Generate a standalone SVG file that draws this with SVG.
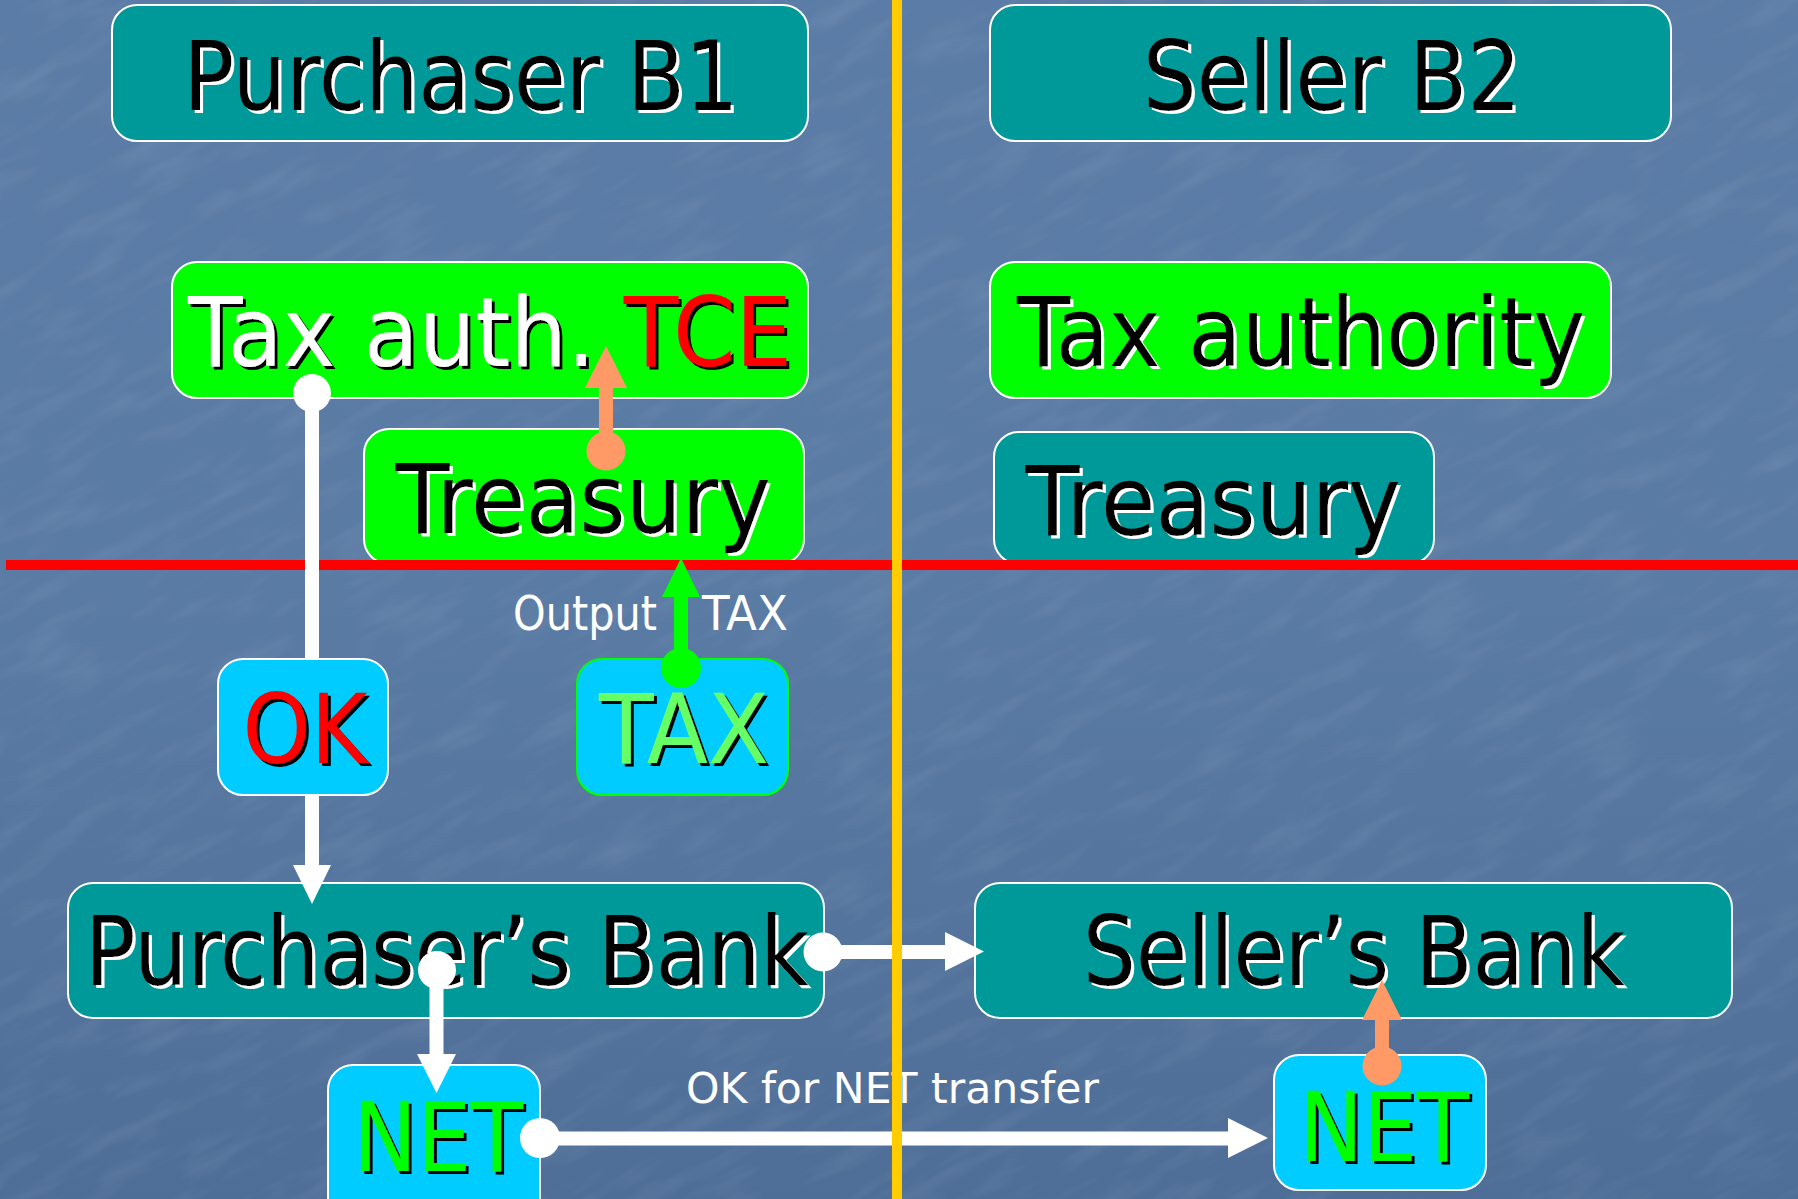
<svg xmlns="http://www.w3.org/2000/svg" width="1798" height="1199" viewBox="0 0 1798 1199">
<defs>
<linearGradient id="bg" x1="0" y1="0" x2="0" y2="1">
<stop offset="0" stop-color="#5b7ca6"/>
<stop offset="0.5" stop-color="#5a7ba4"/>
<stop offset="1" stop-color="#4f6e97"/>
</linearGradient>
<filter id="tex" x="0" y="0" width="100%" height="100%">
<feTurbulence type="fractalNoise" baseFrequency="0.012 0.05" numOctaves="3" seed="4"/>
<feColorMatrix type="matrix" values="0 0 0 0 1  0 0 0 0 1  0 0 0 0 1  0 0 0 1.6 -0.75"/>
</filter>
<filter id="shw" x="-5%" y="-5%" width="110%" height="120%">
<feDropShadow dx="3" dy="3" stdDeviation="0" flood-color="#ffffff" flood-opacity="1"/>
</filter>
<filter id="shb" x="-5%" y="-5%" width="110%" height="120%">
<feDropShadow dx="3" dy="3" stdDeviation="0" flood-color="#000000" flood-opacity="1"/>
</filter>
</defs>
<style>
.box{stroke:#ffffff;stroke-width:2}
.teal{fill:#009999}
.green{fill:#00ff00}
.cyan{fill:#00ccff}
.big{font-family:"DejaVu Sans","Verdana",sans-serif;font-size:96px;text-anchor:middle}
.dark{fill:#000000;filter:url(#shw)}
.small{font-family:"DejaVu Sans","Verdana",sans-serif;fill:#ffffff}
.wline{stroke:#ffffff;stroke-width:14;fill:none}
.oline{stroke:#ff9966;stroke-width:14;fill:none}
.gline{stroke:#00ff00;stroke-width:14;fill:none}
</style>
<rect x="0" y="0" width="1798" height="1199" fill="url(#bg)"/>
<g opacity="0.1" transform="rotate(-28 899 600)">
<rect x="-400" y="-500" width="2600" height="2200" filter="url(#tex)"/>
</g>

<g id="purchaser-b1">
<rect class="box teal" x="112" y="5" width="696" height="136" rx="25"/>
<text class="big dark" x="461" y="110" textLength="555" lengthAdjust="spacingAndGlyphs">Purchaser B1</text>
</g>
<g id="seller-b2">
<rect class="box teal" x="990" y="5" width="681" height="136" rx="25"/>
<text class="big dark" x="1332" y="110" textLength="378" lengthAdjust="spacingAndGlyphs">Seller B2</text>
</g>
<g id="tax-auth-tce">
<rect class="box green" x="172" y="262" width="636" height="136" rx="25"/>
<text class="big" x="490" y="366" textLength="604" lengthAdjust="spacingAndGlyphs" filter="url(#shb)"><tspan fill="#ffffff">Tax auth. </tspan><tspan fill="#ff0000">TCE</tspan></text>
</g>
<g id="tax-authority">
<rect class="box green" x="990" y="262" width="621" height="136" rx="25"/>
<text class="big dark" x="1301" y="366" textLength="568" lengthAdjust="spacingAndGlyphs">Tax authority</text>
</g>
<g id="treasury-b1">
<rect class="box green" x="364" y="429" width="440" height="135" rx="25"/>
<text class="big dark" x="583" y="533" textLength="375" lengthAdjust="spacingAndGlyphs">Treasury</text>
</g>
<g id="treasury-b2">
<rect class="box teal" x="994" y="432" width="440" height="132" rx="25"/>
<text class="big dark" x="1213" y="535" textLength="375" lengthAdjust="spacingAndGlyphs">Treasury</text>
</g>
<g id="purchasers-bank">
<rect class="box teal" x="68" y="883" width="756" height="135" rx="25"/>
<text class="big dark" x="447" y="985" textLength="724" lengthAdjust="spacingAndGlyphs">Purchaser’s Bank</text>
</g>
<g id="sellers-bank">
<rect class="box teal" x="975" y="883" width="757" height="135" rx="25"/>
<text class="big dark" x="1354" y="985" textLength="542" lengthAdjust="spacingAndGlyphs">Seller’s Bank</text>
</g>
<g id="tax">
<rect class="cyan" x="577" y="659" width="211" height="136" rx="25" stroke="#00ff00" stroke-width="2"/>
<text class="big" x="684" y="763" textLength="170" lengthAdjust="spacingAndGlyphs" fill="#66ff66" filter="url(#shb)">TAX</text>
</g>
<g id="net-b1">
<rect class="box cyan" x="328" y="1065" width="212" height="170" rx="25"/>
<text class="big" x="438" y="1171" textLength="170" lengthAdjust="spacingAndGlyphs" fill="#00ff00" filter="url(#shb)">NET</text>
</g>
<g id="net-b2">
<rect class="box cyan" x="1274" y="1055" width="212" height="135" rx="25"/>
<text class="big" x="1384" y="1161" textLength="170" lengthAdjust="spacingAndGlyphs" fill="#00ff00" filter="url(#shb)">NET</text>
</g>

<rect id="border-line" x="6" y="560" width="1792" height="10" fill="#ff0000"/>

<g id="connectors">
<circle cx="312" cy="393" r="19" fill="#ffffff"/>
<line class="wline" x1="312" y1="393" x2="312" y2="867"/>
<polygon points="293,865 331,865 312,904" fill="#ffffff"/>

<circle cx="606" cy="451" r="19.5" fill="#ff9966"/>
<line class="oline" x1="606" y1="451" x2="606" y2="386"/>
<polygon points="585,388 627,388 606,346" fill="#ff9966"/>

<circle cx="681" cy="668" r="20" fill="#00ff00"/>
<line class="gline" x1="681" y1="668" x2="681" y2="595"/>
<polygon points="662,597 700,597 681,558" fill="#00ff00"/>

<circle cx="823" cy="952" r="19.5" fill="#ffffff"/>
<line class="wline" x1="823" y1="952" x2="947" y2="952"/>
<polygon points="945,932 945,971 984,951.5" fill="#ffffff"/>

<circle cx="437" cy="970" r="19" fill="#ffffff"/>
<line class="wline" x1="436.5" y1="970" x2="436.5" y2="1056"/>
<polygon points="417,1054 456,1054 436.5,1093" fill="#ffffff"/>

<circle cx="540" cy="1138" r="20" fill="#ffffff"/>
<line class="wline" x1="540" y1="1138.5" x2="1230" y2="1138.5"/>
<polygon points="1228,1118 1228,1158 1268,1138" fill="#ffffff"/>

<circle cx="1382" cy="1066" r="19.5" fill="#ff9966"/>
<line class="oline" x1="1382" y1="1066" x2="1382" y2="1018"/>
<polygon points="1362,1020 1402,1020 1382,980" fill="#ff9966"/>

<text class="small" x="513" y="630" font-size="48" textLength="144" lengthAdjust="spacingAndGlyphs">Output</text>
<text class="small" x="702" y="630" font-size="48" textLength="86" lengthAdjust="spacingAndGlyphs">TAX</text>
<text class="small" x="686" y="1103" font-size="42" textLength="413" lengthAdjust="spacingAndGlyphs">OK for NET transfer</text>
</g>

<g id="ok">
<rect class="box cyan" x="218" y="659" width="170" height="136" rx="25"/>
<text class="big" x="305" y="763" textLength="125" lengthAdjust="spacingAndGlyphs" fill="#ff0000" filter="url(#shb)">OK</text>
</g>

<rect id="divider" x="892" y="0" width="10" height="1199" fill="#ffcc00"/>
</svg>
